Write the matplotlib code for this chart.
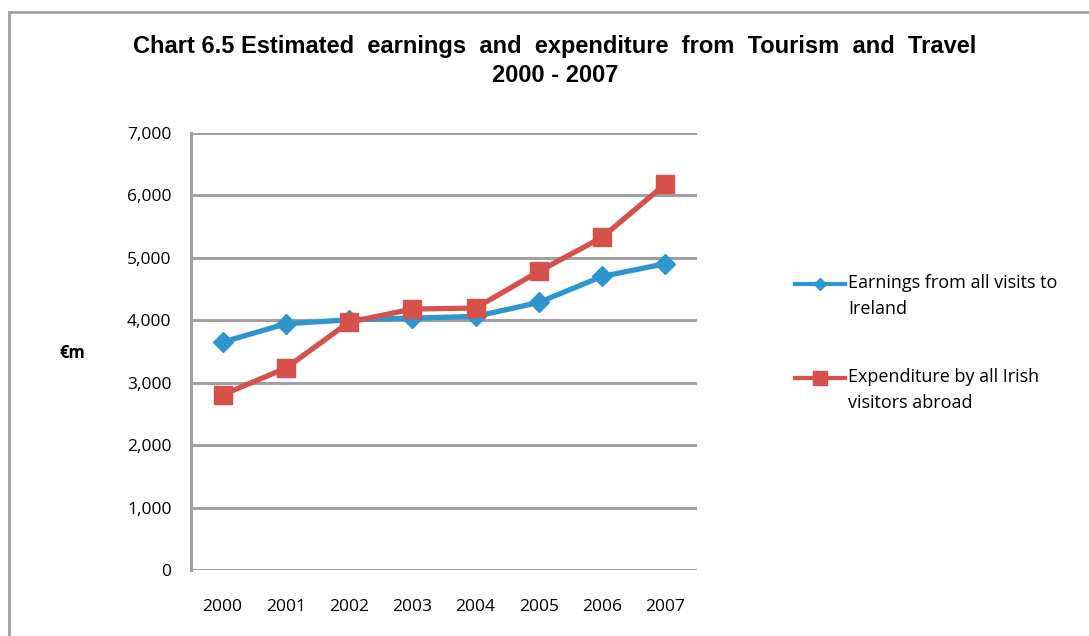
import matplotlib
matplotlib.use("Agg")
import matplotlib.pyplot as plt
from matplotlib.lines import Line2D

YEARS = ['2000', '2001', '2002', '2003', '2004', '2005', '2006', '2007']
EARNINGS = [3650, 3944, 4008, 4035, 4062, 4286, 4703, 4906]
EXPENDITURE = [2806, 3234, 3971, 4180, 4196, 4783, 5329, 6184]
Y_TICKS = [0, 1000, 2000, 3000, 4000, 5000, 6000, 7000]
SERIES_NAMES = ['Earnings from all visits to\nIreland', 'Expenditure by all Irish\nvisitors abroad']
TITLE_1 = 'Chart 6.5 Estimated  earnings  and  expenditure  from  Tourism  and  Travel'
TITLE_2 = '2000 - 2007'

BLUE = '#2f95cf'
RED = '#d6504c'
GRID = '#a0a0a0'
TICK_FONT = 'Open Sans'

W, H = 1089, 636


def fx(px):
    return px / W


def fy(px):
    return 1 - px / H


def main():
    fig = plt.figure(figsize=(W / 100, H / 100), dpi=100)
    fig.patch.set_facecolor('white')

    # outer chart frame (top and left edges visible)
    fig.add_artist(Line2D([fx(9), fx(9)], [0, fy(12)], transform=fig.transFigure, color=GRID, lw=2))
    fig.add_artist(Line2D([fx(9), 1], [fy(12), fy(12)], transform=fig.transFigure, color=GRID, lw=2))

    left, right, top, bottom = 191, 697, 133, 570
    ax = fig.add_axes([fx(left), fy(bottom), fx(right - left), (bottom - top) / H])

    x = list(range(len(YEARS)))
    ax.plot(x, EARNINGS, color=BLUE, lw=3.8, marker='D', markersize=10, zorder=3)
    ax.plot(x, EXPENDITURE, color=RED, lw=3.8, marker='s', markersize=13, zorder=4)

    ax.set_xlim(-0.5, len(YEARS) - 0.5)
    ax.set_ylim(0, 7000)
    ax.set_yticks(Y_TICKS)
    ax.set_yticklabels([f'{v:,}' for v in Y_TICKS], fontfamily=TICK_FONT, fontsize=12.5)
    ax.set_xticks(x)
    ax.set_xticklabels(YEARS, fontfamily=TICK_FONT, fontsize=12.5)
    ax.tick_params(length=0, pad=14)
    ax.tick_params(axis='x', pad=21)

    ax.grid(axis='y', color=GRID, lw=2.2)
    ax.set_axisbelow(True)
    for s in ['top', 'right', 'bottom']:
        ax.spines[s].set_visible(False)
    ax.spines['left'].set_color(GRID)
    ax.spines['left'].set_linewidth(2.2)

    fig.text(fx(72), fy(353), '€m', fontfamily=TICK_FONT, fontweight='bold',
             fontsize=12, ha='center', va='center')

    fig.text(fx(555), fy(47), TITLE_1, fontfamily='Liberation Sans', fontweight='bold',
             fontsize=17, ha='center', va='center')
    fig.text(fx(555), fy(75), TITLE_2, fontfamily='Liberation Sans', fontweight='bold',
             fontsize=17, ha='center', va='center')

    # legend drawn by hand so the key lines up with the first text line
    for name, color, marker, ms, ytop in [(SERIES_NAMES[0], BLUE, 'D', 6, 284),
                                          (SERIES_NAMES[1], RED, 's', 10, 378)]:
        fig.add_artist(Line2D([fx(795), fx(845)], [fy(ytop), fy(ytop)], transform=fig.transFigure,
                              color=color, lw=3))
        fig.add_artist(Line2D([fx(820)], [fy(ytop)], transform=fig.transFigure, color=color,
                              marker=marker, markersize=ms, lw=0))
        fig.text(fx(848), fy(ytop + 12), name, fontfamily=TICK_FONT, fontsize=13,
                 ha='left', va='center', linespacing=1.52)

    fig.savefig('out.png', dpi=100, facecolor='white')


if __name__ == '__main__':
    main()
